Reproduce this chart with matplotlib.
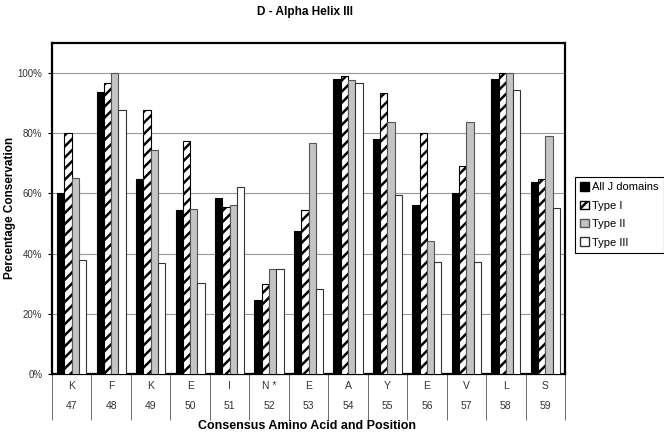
import numpy as np
import matplotlib.pyplot as plt
from matplotlib.patches import Patch
import matplotlib.transforms as mtransforms

plt.rcParams['font.family'] = ['Liberation Sans', 'DejaVu Sans']
plt.rcParams['hatch.linewidth'] = 1.8

# data
residues = ['K', 'F', 'K', 'E', 'I', 'N *', 'E', 'A', 'Y', 'E', 'V', 'L', 'S']
positions = ['47', '48', '49', '50', '51', '52', '53', '54', '55', '56', '57', '58', '59']
all_j = [60.1, 93.8, 64.8, 54.5, 58.5, 24.5, 47.6, 98.0, 78.2, 56.1, 60.0, 98.1, 63.7]
type_1 = [80.0, 96.8, 87.8, 77.5, 55.5, 30.0, 54.5, 99.0, 93.3, 80.0, 69.0, 100.0, 64.7]
type_2 = [65.1, 100.0, 74.4, 54.7, 56.0, 34.8, 76.8, 97.7, 83.6, 44.2, 83.8, 100.0, 79.2]
type_3 = [38.0, 87.7, 37.0, 30.4, 62.0, 34.8, 28.3, 96.8, 59.6, 37.2, 37.2, 94.4, 55.2]
series_names = ['All J domains', 'Type I', 'Type II', 'Type III']

fig = plt.figure(figsize=(6.64, 4.34), dpi=100)
ax = fig.add_axes([52/664, 1-374/434, (565-52)/664, (374-43)/434])

x = np.arange(len(residues))
w = 0.185
styles = [
    dict(color='black', edgecolor='black'),
    dict(color='white', edgecolor='black', hatch='///'),
    dict(color='#c4c4c4', edgecolor='#555555'),
    dict(color='white', edgecolor='#333333'),
]
for i, (vals, st) in enumerate(zip([all_j, type_1, type_2, type_3], styles)):
    ax.bar(x + (i - 1.5) * w, vals, w, linewidth=0.8, zorder=3, **st)

ax.set_xlim(-0.5, len(residues) - 0.5)
ax.set_ylim(0, 110)
ax.set_yticks(np.arange(0, 101, 20))
ax.set_yticklabels([f'{v}%' for v in range(0, 101, 20)], fontsize=7, color='#333333')
ax.yaxis.grid(True, color='#999999', linewidth=0.8, zorder=0)
ax.tick_params(axis='y', length=3, pad=4)
for s in ax.spines.values():
    s.set_linewidth(1.6)

# table-like category axis below the plot
ax.set_xticks(np.arange(len(residues) + 1) - 0.5)
ax.set_xticklabels([])
ax.tick_params(axis='x', length=33, width=0.6, color='#555555')
trans = mtransforms.blended_transform_factory(ax.transData, ax.transAxes)
for xi, r, p in zip(x, residues, positions):
    ax.text(xi, -0.035, r, transform=trans, ha='center', va='center', fontsize=7.5, color='#333333')
    ax.text(xi, -0.098, p, transform=trans, ha='center', va='center', fontsize=7.5, color='#333333')

fig.text(305/664, 1-12/434, 'D - Alpha Helix III', ha='center', va='center',
         fontsize=8.5, fontweight='bold')
fig.text(307/664, 1-426/434, 'Consensus Amino Acid and Position', ha='center',
         va='center', fontsize=9, fontweight='bold')
fig.text(10/664, 1-208/434, 'Percentage Conservation', ha='center', va='center',
         rotation=90, fontsize=8.5, fontweight='bold')

handles = [Patch(facecolor=st['color'], edgecolor=st['edgecolor'], hatch=st.get('hatch'))
           for st in styles]
leg = fig.legend(handles, series_names, loc='upper left',
                 bbox_to_anchor=(569/664, 1-171/434), fontsize=8,
                 handlelength=0.8, handleheight=0.8, handletextpad=0.3,
                 labelspacing=0.75, borderpad=0.5, fancybox=False, framealpha=1)
leg.get_frame().set_edgecolor('black')
leg.get_frame().set_linewidth(0.8)

fig.savefig('out.png', dpi=100)
